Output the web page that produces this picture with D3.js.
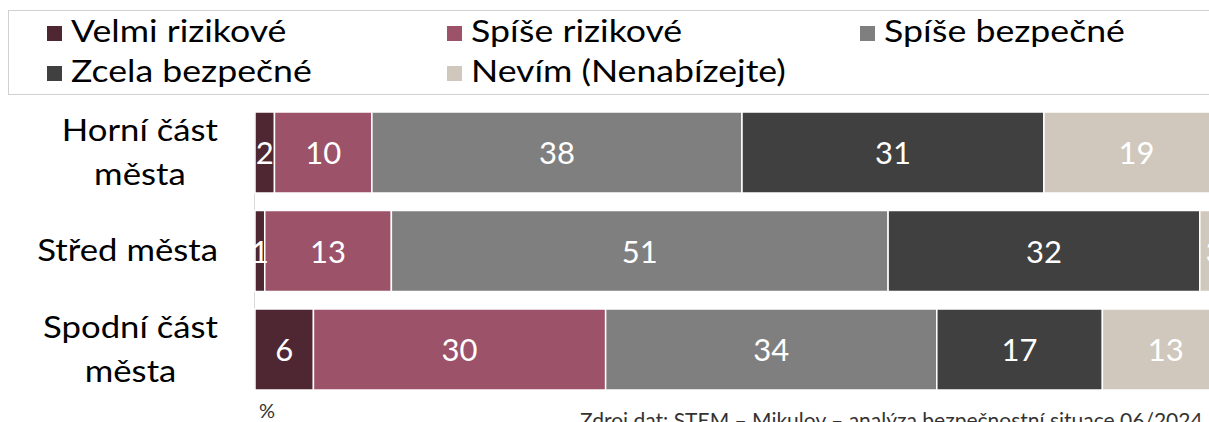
<!DOCTYPE html>
<html>
<head>
<meta charset="utf-8">
<script src="https://cdn.jsdelivr.net/npm/d3@7"></script>
<style>
  html, body { margin: 0; padding: 0; background: #fff; overflow: hidden; }
  svg { display: block; font-family: Lato, "Open Sans", sans-serif; }
</style>
</head>
<body>
<div id="chart"></div>
<script>
// data (% of respondents)
const categories = [["Horní část", "města"], ["Střed města"], ["Spodní část", "města"]];
const seriesNames = ["Velmi rizikové", "Spíše rizikové", "Spíše bezpečné", "Zcela bezpečné", "Nevím (Nenabízejte)"];
const velmiRizikove = [2, 1, 6];
const spiseRizikove = [10, 13, 30];
const spiseBezpecne = [38, 51, 34];
const zcelaBezpecne = [31, 32, 17];
const nevim = [19, 3, 13];
const colors = ["#4e2733", "#9c5268", "#7f7f7f", "#404040", "#d0c8bc"];

const width = 1209, height = 422;
const margin = { top: 112, left: 255 };
const plotW = 974;
const legendStretch = 1.15; // the reference text is a bit wider than Lato
const labelStretch = 1.12;

const svg = d3.select("#chart").append("svg")
    .attr("width", width)
    .attr("height", height);

function wideText(parent, tx, ty, size, str, sx, anchor) {
    return parent.append("text")
        .attr("transform", `translate(${tx},${ty}) scale(${sx},1)`)
        .attr("font-size", size)
        .attr("fill", "#000")
        .attr("text-anchor", anchor || "start")
        .text(str);
}

// legend box
svg.append("rect")
    .attr("x", 8.5).attr("y", 10.5)
    .attr("width", 1250).attr("height", 84)
    .attr("fill", "none")
    .attr("stroke", "#d0d0d0")
    .attr("stroke-width", 1);

const legendPos = [[47, 26], [447, 26], [860, 26], [47, 66], [447, 66]];
const legend = svg.append("g").attr("class", "legend");
seriesNames.forEach((name, i) => {
    const [lx, ly] = legendPos[i];
    legend.append("rect")
        .attr("x", lx).attr("y", ly)
        .attr("width", 15).attr("height", 15)
        .attr("fill", colors[i]);
    wideText(legend, lx + 24, ly + 16, 31, name, legendStretch);
});

const rows = categories.map((c, i) => ({
    name: c,
    values: [velmiRizikove[i], spiseRizikove[i], spiseBezpecne[i], zcelaBezpecne[i], nevim[i]]
}));

const bandH = 81, step = 98.5;
const x = d3.scaleLinear().domain([0, 100]).range([margin.left, margin.left + plotW]);
const y = d3.scaleBand()
    .domain(d3.range(categories.length))
    .range([margin.top, margin.top + 2 * step + bandH])
    .paddingInner(1 - bandH / step)
    .paddingOuter(0);

// faint axis line
svg.append("line")
    .attr("x1", x(0) - 0.5).attr("x2", x(0) - 0.5)
    .attr("y1", y(0)).attr("y2", y(2) + y.bandwidth())
    .attr("stroke", "#d9d9d9");

rows.forEach((row, ri) => {
    const stacked = [];
    let acc = 0;
    row.values.forEach((v, si) => {
        stacked.push({ x0: acc, x1: acc + v, v, si });
        acc += v;
    });
    const g = svg.append("g");
    g.selectAll("rect").data(stacked).enter().append("rect")
        .attr("x", d => x(d.x0))
        .attr("y", y(ri))
        .attr("width", d => x(d.x1) - x(d.x0))
        .attr("height", y.bandwidth())
        .attr("fill", d => colors[d.si])
        .attr("stroke", "#fff")
        .attr("stroke-width", 1.5);
    g.selectAll("text").data(stacked).enter().append("text")
        .attr("x", d => (x(d.x0) + x(d.x1)) / 2)
        .attr("y", y(ri) + y.bandwidth() / 2 + 11.5)
        .attr("text-anchor", "middle")
        .attr("font-size", 31)
        .attr("fill", "#fff")
        .text(d => d.v);

    // category label, lines centered in a right-aligned block
    const cy = y(ri) + y.bandwidth() / 2;
    const n = row.name.length;
    const lh = 44;
    const lineY = li => cy + 10 + (li - (n - 1) / 2) * lh;
    const labs = row.name.map((line, li) =>
        wideText(svg, 0, lineY(li), 31, line, labelStretch, "middle"));
    const wMax = d3.max(labs, t => t.node().getComputedTextLength()) * labelStretch;
    labs.forEach((t, li) => {
        t.attr("transform", `translate(${218 - wMax / 2},${lineY(li)}) scale(${labelStretch},1)`);
    });
});

svg.append("text")
    .attr("x", 259).attr("y", 418)
    .attr("font-size", 20)
    .attr("fill", "#333")
    .text("%");

svg.append("text")
    .attr("x", 580).attr("y", 428)
    .attr("font-size", 21)
    .attr("fill", "#333")
    .text("Zdroj dat: STEM – Mikulov – analýza bezpečnostní situace 06/2024");
</script>
</body>
</html>
